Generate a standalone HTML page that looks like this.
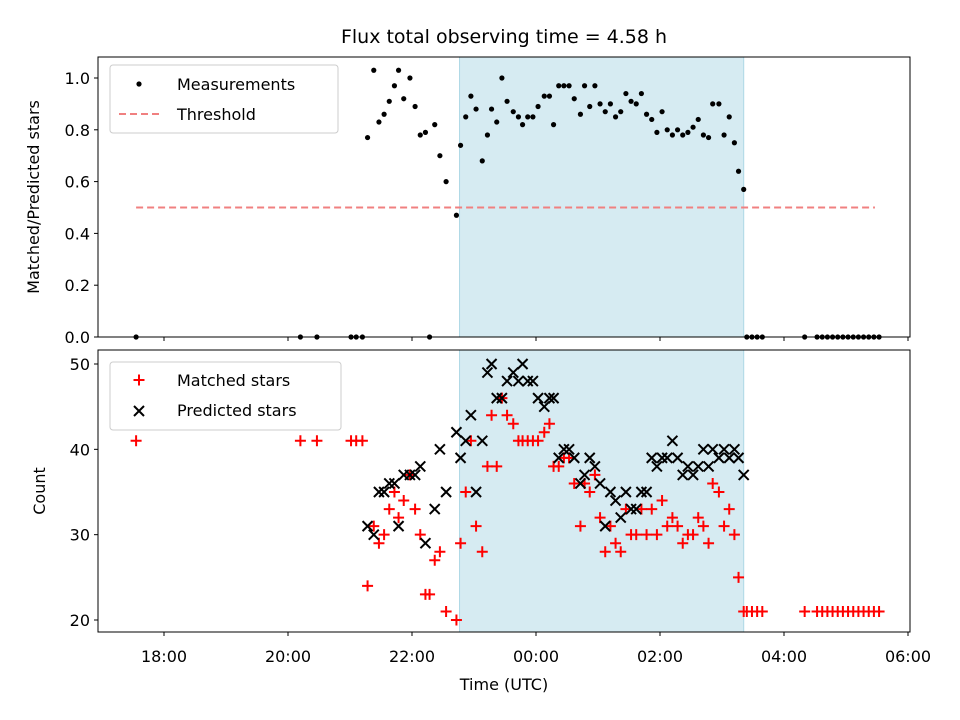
<!DOCTYPE html>
<html><head><meta charset="utf-8">
<style>
html,body{margin:0;padding:0;background:#fff;}
svg{display:block;font-family:"DejaVu Sans","Liberation Sans",sans-serif;}
</style></head>
<body>
<svg id="chart" width="960" height="720" viewBox="0 0 960 720"></svg>
<script>
const times = ["17:33","20:12","20:28","21:01","21:06","21:12","21:17","21:23","21:28","21:33","21:38","21:43","21:47","21:52","21:58","22:03","22:08","22:13","22:17","22:22","22:27","22:33","22:43","22:47","22:52","22:57","23:02","23:08","23:13","23:17","23:22","23:27","23:32","23:38","23:43","23:47","23:52","23:57","00:02","00:08","00:13","00:17","00:22","00:27","00:32","00:37","00:43","00:47","00:52","00:57","01:02","01:07","01:12","01:17","01:22","01:27","01:32","01:37","01:42","01:47","01:52","01:57","02:02","02:07","02:12","02:17","02:22","02:27","02:32","02:37","02:42","02:47","02:51","02:57","03:02","03:07","03:12","03:16","03:21","03:24","03:29","03:34","03:39","04:20","04:32","04:37","04:42","04:47","04:52","04:57","05:02","05:07","05:12","05:17","05:22","05:27","05:32"];
const ratio = [0,0,0,0,0,0,0.77,1.03,0.83,0.86,0.91,0.97,1.03,0.92,1.0,0.89,0.78,0.79,0,0.82,0.70,0.60,0.47,0.74,0.85,0.93,0.88,0.68,0.78,0.88,0.83,1.0,0.91,0.87,0.85,0.82,0.85,0.85,0.89,0.93,0.93,0.82,0.97,0.97,0.97,0.92,0.86,0.97,0.89,0.97,0.90,0.87,0.90,0.85,0.87,0.94,0.91,0.90,0.94,0.86,0.84,0.79,0.87,0.80,0.78,0.80,0.78,0.79,0.81,0.84,0.78,0.77,0.90,0.90,0.78,0.85,0.75,0.64,0.57,0,0,0,0,0,0,0,0,0,0,0,0,0,0,0,0,0,0];
const matched = [41,41,41,41,41,41,24,31,29,30,33,35,32,34,37,33,30,23,23,27,28,21,20,29,35,41,31,28,38,44,38,46,44,43,41,41,41,41,41,42,43,38,38,39,39,36,31,36,35,37,32,28,31,29,28,33,30,30,33,30,33,30,34,31,32,31,29,30,30,32,31,29,36,35,31,33,30,25,21,21,21,21,21,21,21,21,21,21,21,21,21,21,21,21,21,21,21];
const predicted = [null,null,null,null,null,null,31,30,35,35,36,36,31,37,37,37,38,29,null,33,40,35,42,39,41,44,35,41,49,50,46,46,48,49,48,50,48,48,46,45,46,46,39,40,40,39,36,37,39,38,36,31,35,34,32,35,33,33,35,35,39,38,39,39,41,39,37,38,37,38,40,38,40,39,40,39,40,39,37,null,null,null,null,null,null,null,null,null,null,null,null,null,null,null,null,null,null];
const xTickLabels = ["18:00","20:00","22:00","00:00","02:00","04:00","06:00"];
const topYTicks = [0.0,0.2,0.4,0.6,0.8,1.0];
const botYTicks = [20,30,40,50];
const threshold = 0.5;
const thresholdSpan = ["17:33","05:28"];
const observingWindow = ["22:46","03:21"];

const NS="http://www.w3.org/2000/svg";
const svg=document.getElementById('chart');
function hrs(t){let [h,m]=t.split(':').map(Number);if(h<12)h+=24;return h+m/60;}
const X=t=>164+(hrs(t)-18)*62;
const Yt=v=>337-v*259;
const Yb=v=>620-(v-20)*(256/30);
function el(tag,attrs,parent){const e=document.createElementNS(NS,tag);for(const k in attrs)e.setAttribute(k,attrs[k]);(parent||svg).appendChild(e);return e;}
function txt(s,attrs,parent){const e=el('text',attrs,parent);e.textContent=s;return e;}

const gTop=el('g',{});


const gBot=el('g',{});



[[gTop,57,337],[gBot,350,632]].forEach(([g,y0,y1],i)=>{
  const r=el('rect',{x:X(observingWindow[0]),y:y0,width:X(observingWindow[1])-X(observingWindow[0]),height:y1-y0,fill:'#add8e6','fill-opacity':0.5,stroke:'#add8e6','stroke-width':1},g);
  
  
});

const th=el('line',{x1:X(thresholdSpan[0]),x2:X(thresholdSpan[1]),y1:Yt(threshold),y2:Yt(threshold),stroke:'#f08080','stroke-width':2,'stroke-dasharray':'7,4'},gTop);



times.forEach((t,i)=>{
  const c=el('circle',{cx:X(t),cy:Yt(ratio[i]),r:2.6,fill:'#000'},gTop);
  
  
});

times.forEach((t,i)=>{
  const x=X(t),y=Yb(matched[i]);
  const p=el('path',{d:`M${x-5.5},${y}H${x+5.5}M${x},${y-5.5}V${y+5.5}`,stroke:'#f00','stroke-width':2,fill:'none'},gBot);
  
  
});
times.forEach((t,i)=>{
  if(predicted[i]===null)return;
  const x=X(t),y=Yb(predicted[i]);
  const p=el('path',{d:`M${x-5},${y-5}L${x+5},${y+5}M${x-5},${y+5}L${x+5},${y-5}`,stroke:'#000','stroke-width':2,fill:'none'},gBot);
  
  
});

[[gTop,57,337],[gBot,350,632]].forEach(([g,y0,y1],i)=>{
  const r=el('rect',{x:98,y:y0,width:812,height:y1-y0,fill:'none',stroke:'#000','stroke-width':1},g);
  
  
  xTickLabels.forEach(l=>{
    const x=X(l);
    const tk=el('line',{x1:x,x2:x,y1:y1,y2:y1+4,stroke:'#000','stroke-width':1},g);
    
    
    if(i){
      const tl=txt(l,{x:x,y:y1+30,'font-size':16,'text-anchor':'middle'},g);
      
      
    }
  });
});
topYTicks.forEach(v=>{
  const y=Yt(v);
  const tk=el('line',{x1:94,x2:98,y1:y,y2:y,stroke:'#000'},gTop);
  
  
  const tl=txt(v.toFixed(1),{x:90,y:y+6,'font-size':16,'text-anchor':'end'},gTop);
  
  
});
botYTicks.forEach(v=>{
  const y=Yb(v);
  const tk=el('line',{x1:94,x2:98,y1:y,y2:y,stroke:'#000'},gBot);
  
  
  const tl=txt(String(v),{x:90,y:y+6,'font-size':16,'text-anchor':'end'},gBot);
  
  
});

const title=txt('Flux total observing time = 4.58 h',{x:504,y:43,'font-size':19,'text-anchor':'middle'});


const yt1=txt('Matched/Predicted stars',{x:0,y:0,'font-size':16,'text-anchor':'middle',transform:'translate(39,197) rotate(-90)'});


const yt2=txt('Count',{x:0,y:0,'font-size':16,'text-anchor':'middle',transform:'translate(45,491) rotate(-90)'});


const xt=txt('Time (UTC)',{x:504,y:690,'font-size':16,'text-anchor':'middle'});



const lg1=el('g',{});


el('rect',{x:110,y:65,width:228,height:68,rx:3,fill:'#fff','fill-opacity':0.8,stroke:'#ccc'},lg1);
el('circle',{cx:139,cy:84,r:2.6,fill:'#000'},lg1);
const le1=txt('Measurements',{x:177,y:90,'font-size':16},lg1);


el('line',{x1:119,x2:159,y1:114,y2:114,stroke:'#f08080','stroke-width':2,'stroke-dasharray':'7,4'},lg1);
const le2=txt('Threshold',{x:177,y:120,'font-size':16},lg1);



const lg2=el('g',{});


el('rect',{x:110,y:362,width:231,height:68,rx:3,fill:'#fff','fill-opacity':0.8,stroke:'#ccc'},lg2);
el('path',{d:'M133.5,380H144.5M139,374.5V385.5',stroke:'#f00','stroke-width':2},lg2);
const le3=txt('Matched stars',{x:177,y:386,'font-size':16},lg2);


el('path',{d:'M134,406L144,416M134,416L144,406',stroke:'#000','stroke-width':2},lg2);
const le4=txt('Predicted stars',{x:177,y:416,'font-size':16},lg2);


</script>
</body></html>
